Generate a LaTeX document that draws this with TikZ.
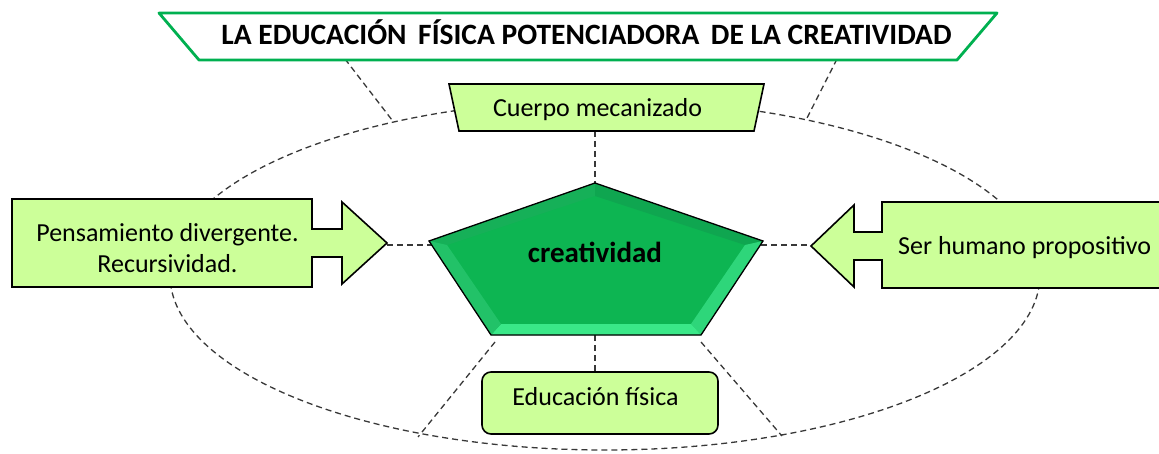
\documentclass[tikz,border=0pt]{standalone}
\usepackage{fontspec}
\setmainfont{Carlito}
\definecolor{lgreen}{HTML}{CCFF99}
\definecolor{tgreen}{HTML}{00B050}
\definecolor{dgray}{HTML}{383838}
\definecolor{pface}{HTML}{0DB552}
\definecolor{pbtl}{HTML}{16B058}
\definecolor{pbtr}{HTML}{0FA650}
\definecolor{pbr}{HTML}{2ED67A}
\definecolor{pbb}{HTML}{3AE888}
\definecolor{pbl}{HTML}{22C268}
\tikzset{
  dline/.style={draw=dgray, line width=1.3pt, dash pattern=on 6pt off 4pt},
  boxline/.style={draw=black, line width=1.6pt, fill=lgreen, line join=miter},
  lbl/.style={inner sep=0pt, font=\fontsize{26}{31}\selectfont, text=black},
}
\begin{document}
\begin{tikzpicture}[x=1pt, y=-1pt]
\useasboundingbox (0,0) rectangle (1159,454);
% ellipse
\draw[dline] (605,275) ellipse [x radius=435pt, y radius=175pt];
% coordinates
\coordinate (t1) at (345,59);
\coordinate (e1) at (392,120);
\coordinate (t2) at (837,59);
\coordinate (e2) at (807,118);
\coordinate (cmb) at (595,131);
\coordinate (pT) at (595,183);
\coordinate (pL) at (429,241);
\coordinate (pR) at (763,241);
\coordinate (pBL) at (491,335);
\coordinate (pBR) at (701,335);
\coordinate (iT) at (595,196);
\coordinate (iL) at (447,245);
\coordinate (iR) at (745,245);
\coordinate (iBL) at (501,324);
\coordinate (iBR) at (691,324);
\coordinate (la) at (387,245);
\coordinate (pl) at (433,245);
\coordinate (pr) at (761,245);
\coordinate (ra) at (811,245);
\coordinate (pb) at (595,335);
\coordinate (eft) at (595,372);
\coordinate (pbl2) at (495,342);
\coordinate (e3) at (418,437);
\coordinate (pbr2) at (701,342);
\coordinate (e4) at (782,436);
% connectors
\draw[dline] (t1) -- (e1);
\draw[dline] (t2) -- (e2);
\draw[dline] (cmb) -- (pT);
\draw[dline] (la) -- (pl);
\draw[dline] (pr) -- (ra);
\draw[dline] (pb) -- (eft);
\draw[dline] (pbl2) -- (e3);
\draw[dline] (pbr2) -- (e4);
% title
\draw[draw=tgreen, line width=2.8pt, fill=white, line join=round] (159,13) -- (997,13) -- (957,60) -- (199,60) -- cycle;
\node[inner sep=0pt, anchor=base, font=\fontsize{29.5}{34}\selectfont\bfseries] (title) at (586.5,45)
  {LA EDUCACIÓN\, FÍSICA POTENCIADORA\, DE LA CREATIVIDAD};
% cuerpo mecanizado
\path[boxline] (449,84) -- (764,84) -- (754,131) -- (459,131) -- cycle;
\node[lbl, anchor=base] (cuerpo) at (597.5,117) {Cuerpo mecanizado};
% left arrow box
\path[boxline] (12,199) -- (312,199) -- (312,229) -- (342,229) -- (342,202) -- (387,243) -- (342,284) -- (342,257) -- (312,257) -- (312,287) -- (12,287) -- cycle;
\node[lbl, anchor=base] (pens) at (167.5,242) {Pensamiento divergente.};
\node[lbl, anchor=base] (recu) at (167.5,273) {Recursividad.};
% right arrow box
\path[boxline] (1175,202) -- (882,202) -- (882,232) -- (854,232) -- (854,205) -- (811,246) -- (854,287) -- (854,260) -- (882,260) -- (882,288) -- (1175,288) -- cycle;
\node[lbl, anchor=base west] (ser) at (898,255) {Ser humano propositivo};
% pentagon
\fill[pface] (pT) -- (pR) -- (pBR) -- (pBL) -- (pL) -- cycle;
\fill[pbtl] (pL) -- (pT) -- (iT) -- (iL) -- cycle;
\fill[pbtr] (pT) -- (pR) -- (iR) -- (iT) -- cycle;
\fill[pbr] (pR) -- (pBR) -- (iBR) -- (iR) -- cycle;
\fill[pbb] (pBR) -- (pBL) -- (iBL) -- (iBR) -- cycle;
\fill[pbl] (pBL) -- (pL) -- (iL) -- (iBL) -- cycle;
\draw[line width=1.3pt, line join=miter] (pT) -- (pR) -- (pBR) -- (pBL) -- (pL) -- cycle;
\node[inner sep=0pt, anchor=base, font=\fontsize{29}{34}\selectfont\bfseries] (crea) at (595,263) {creatividad};
% educacion fisica
\path[boxline, rounded corners=9pt] (482,372) rectangle (718,434);
\node[lbl, anchor=base] (edu) at (595.5,405) {Educación física};
\end{tikzpicture}
\end{document}
